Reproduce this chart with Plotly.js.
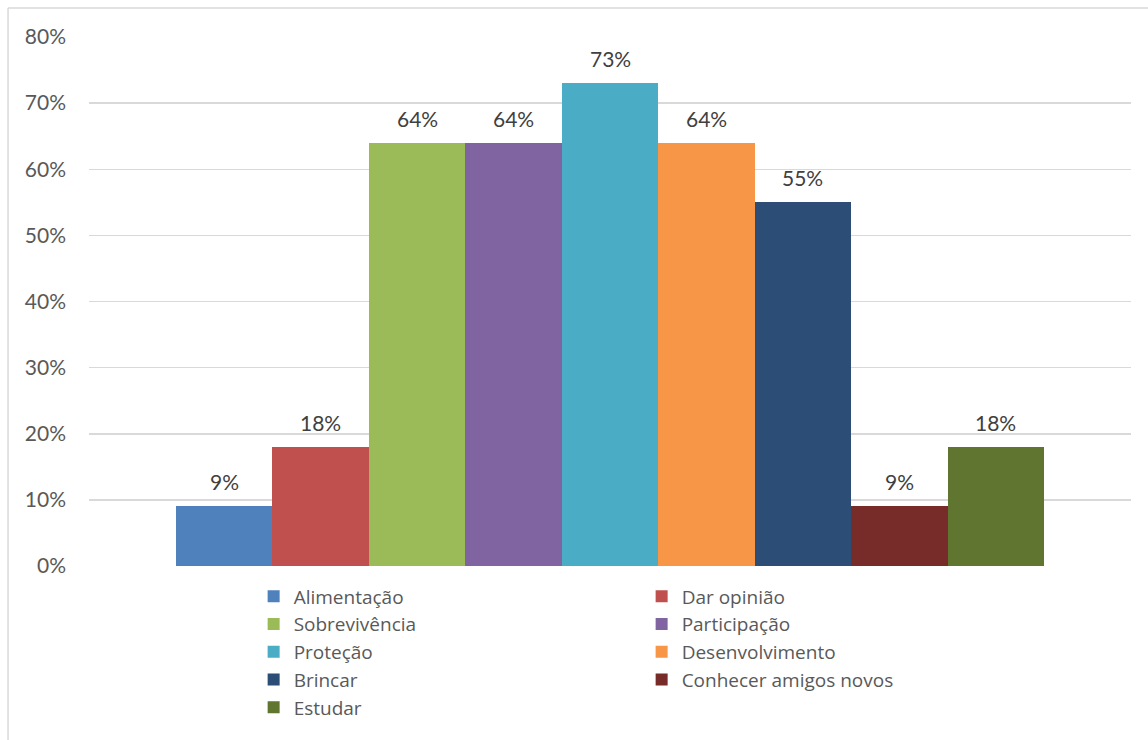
<!DOCTYPE html>
<html>
<head>
<meta charset="utf-8">
<script src="https://cdn.plot.ly/plotly-3.0.1.min.js"></script>
<style>html,body{margin:0;padding:0;background:#fff;}#chart{width:1148px;height:740px;}</style>
</head>
<body>
<div id="chart"></div>
<script>
var categories = ["Alimentação","Dar opinião","Sobrevivência","Participação","Proteção","Desenvolvimento","Brincar","Conhecer amigos novos","Estudar"];
var values = [0.09, 0.18, 0.64, 0.64, 0.73, 0.64, 0.55, 0.09, 0.18];
var colors = ["#4F81BD","#C0504D","#9BBB59","#8064A2","#4BACC6","#F79646","#2C4D75","#772C2A","#5F7530"];
var yTicks = [0,0.1,0.2,0.3,0.4,0.5,0.6,0.7,0.8];
var yTickText = ["0%","10%","20%","30%","40%","50%","60%","70%","80%"];

var FONT = "Lato, 'Open Sans', sans-serif";
var LFONT = "'Open Sans', Lato, sans-serif";
var traces = categories.map(function(c, i){
  return {type:'bar', name:c, x:[i], y:[values[i]], width:1,
    marker:{color:colors[i], line:{width:0}}, hoverinfo:'name+y'};
});
var annotations = categories.map(function(c, i){
  return {x:i, y:values[i], xref:'x', yref:'y', text:Math.round(values[i]*100)+'%',
    showarrow:false, yanchor:'bottom', yshift:10, font:{family:FONT, size:21, color:'#404040'}};
});
var layout = {
  width:1148, height:740,
  margin:{l:89, r:17, t:37, b:174},
  paper_bgcolor:'#fff', plot_bgcolor:'#fff',
  font:{family:FONT, size:18, color:'#595959'},
  bargap:0,
  xaxis:{range:[-1.402, 9.402], showticklabels:false, showgrid:false, zeroline:false, showline:false, ticks:'', fixedrange:true},
  yaxis:{range:[0,0.8], tickvals:yTicks, ticktext:yTickText, showgrid:true, gridcolor:'#D9D9D9', gridwidth:1.5,
    zeroline:false, showline:false, ticks:'', ticklabelstandoff:22, tickfont:{family:FONT, size:21, color:'#595959'}},
  showlegend:true,
  legend:{orientation:'h', x:0.158, xanchor:'left', y:-0.0217, yanchor:'top', entrywidth:343, entrywidthmode:'pixels',
    font:{family:LFONT, size:19, color:'#595959'}, bgcolor:'rgba(0,0,0,0)', traceorder:'normal'},
  annotations:annotations,
  shapes:[
    {type:'line', xref:'paper', yref:'paper', x0:-0.0777, x1:-0.0777, y0:1.0548, y1:-0.33, line:{color:'#D9D9D9', width:1.5}},
    {type:'line', xref:'paper', yref:'paper', x0:-0.0777, x1:1.1, y0:1.0548, y1:1.0548, line:{color:'#D9D9D9', width:1.5}}
  ]
};
Plotly.newPlot('chart', traces, layout, {displayModeBar:false, staticPlot:true});
</script>
</body>
</html>
